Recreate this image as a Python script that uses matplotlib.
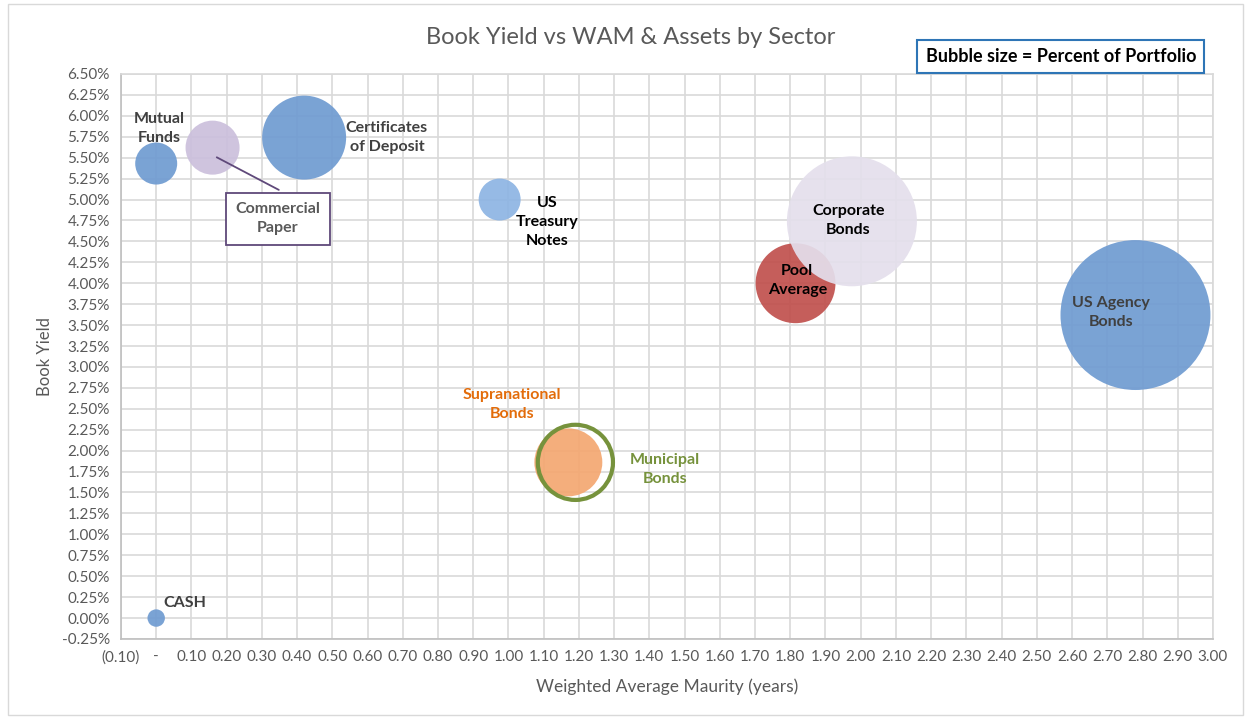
import numpy as np
from matplotlib import pyplot as plt
from matplotlib.patches import Rectangle
from matplotlib.ticker import FuncFormatter, MultipleLocator

plt.rcParams['font.family'] = ['Lato', 'DejaVu Sans']

# Data
sectors = ['CASH', 'Mutual Funds', 'Commercial Paper', 'Certificates of Deposit',
           'US Treasury Notes', 'Supranational Bonds', 'Municipal Bonds',
           'Pool Average', 'Corporate Bonds', 'US Agency Bonds']
wam = [0.00, 0.00, 0.16, 0.42, 0.975, 1.17, 1.19, 1.815, 1.975, 2.78]
book_yield = [0.00, 5.43, 5.62, 5.74, 5.00, 1.86, 1.86, 4.00, 4.74, 3.62]
pct_portfolio = [0.5, 2.9, 4.8, 11.6, 2.9, 7.6, 9.3, 10.5, 27.8, 37.0]

colors = ['#6F9BD1', '#6F9BD1', '#CBBFDC', '#6F9BD1', '#8DB4E3',
          '#F4A771', 'none', '#C0504D', '#E4DFEC', '#6F9BD1']
edges = ['none'] * 10
edges[6] = '#76923C'

fig = plt.figure(figsize=(12.51, 7.19), dpi=100)
ax = fig.add_axes([0.0967, 0.1113, 0.8729, 0.7858])

sizes = 315 * np.array(pct_portfolio)
for i in range(len(sectors)):
    if sectors[i] == 'Municipal Bonds':
        ax.scatter(wam[i], book_yield[i], s=sizes[i], facecolors='none',
                   edgecolors=edges[i], linewidths=3, zorder=4)
    else:
        ax.scatter(wam[i], book_yield[i], s=sizes[i], c=colors[i],
                   alpha=0.92, edgecolors='none', zorder=3)

# axes
ax.set_xlim(-0.10, 3.00)
ax.set_ylim(-0.25, 6.50)
ax.xaxis.set_major_locator(MultipleLocator(0.10))
ax.yaxis.set_major_locator(MultipleLocator(0.25))


def acct(v, pos):
    if abs(v) < 1e-9:
        return '-'
    if v < 0:
        return '(%.2f)' % abs(v)
    return '%.2f' % v


ax.xaxis.set_major_formatter(FuncFormatter(acct))
ax.yaxis.set_major_formatter(FuncFormatter(lambda v, p: '%.2f%%' % v))
ax.tick_params(length=0, labelsize=11, labelcolor='#595959', pad=8)
ax.grid(True, color='#D9D9D9', linewidth=1.2, zorder=0)
ax.set_axisbelow(True)
for s in ax.spines.values():
    s.set_color('#D9D9D9')
    s.set_linewidth(1.2)
ax.spines['left'].set_color('#BFBFBF')
ax.spines['bottom'].set_color('#BFBFBF')

ax.set_xlabel('Weighted Average Maurity (years)', fontsize=12.5, color='#595959', labelpad=10)
ax.set_ylabel('Book Yield', fontsize=12, color='#595959', labelpad=6)
fig.text(0.504, 0.948, 'Book Yield vs WAM & Assets by Sector', fontsize=17,
         color='#595959', ha='center', va='center')

# bubble labels
lab = dict(fontsize=11.5, fontweight='bold', ha='center', va='center',
           linespacing=1.45, zorder=6)
ax.text(0.01, 5.85, 'Mutual\nFunds', color='#404040', **lab)
ax.text(0.655, 5.74, 'Certificates\nof Deposit', color='#404040', **lab)
ax.text(1.11, 4.73, 'US\nTreasury\nNotes', color='#000000', **lab)
ax.text(1.01, 2.55, 'Supranational\nBonds', color='#E36C0A', **lab)
ax.text(1.445, 1.78, 'Municipal\nBonds', color='#76923C', **lab)
ax.text(1.82, 4.03, 'Pool\nAverage', color='#000000', **lab)
ax.text(1.965, 4.75, 'Corporate\nBonds', color='#000000', **lab)
ax.text(2.71, 3.65, 'US Agency\nBonds', color='#404040', **lab)
ax.text(0.08, 0.18, 'CASH', color='#404040', **lab)
ax.annotate('', xy=(0.165, 5.52), xytext=(0.355, 5.10),
            arrowprops=dict(arrowstyle='-', color='#5F497A', lw=1.3), zorder=6)
ax.text(0.345, 4.77, 'Commercial\nPaper', color='#595959',
        bbox=dict(boxstyle='square,pad=0.6', fc='white', ec='#5F497A', lw=1.3),
        **lab)

# legend note box
fig.text(0.848, 0.921, 'Bubble size = Percent of Portfolio', fontsize=13,
         fontweight='bold', color='#000000', ha='center', va='center',
         bbox=dict(boxstyle='square,pad=0.45', fc='white', ec='#2E75B6', lw=1.5))

# chart border
fig.patches.append(Rectangle((0.006, 0.006), 0.988, 0.988, transform=fig.transFigure,
                             fill=False, ec='#D9D9D9', lw=1))

plt.savefig('out.png', dpi=100)
